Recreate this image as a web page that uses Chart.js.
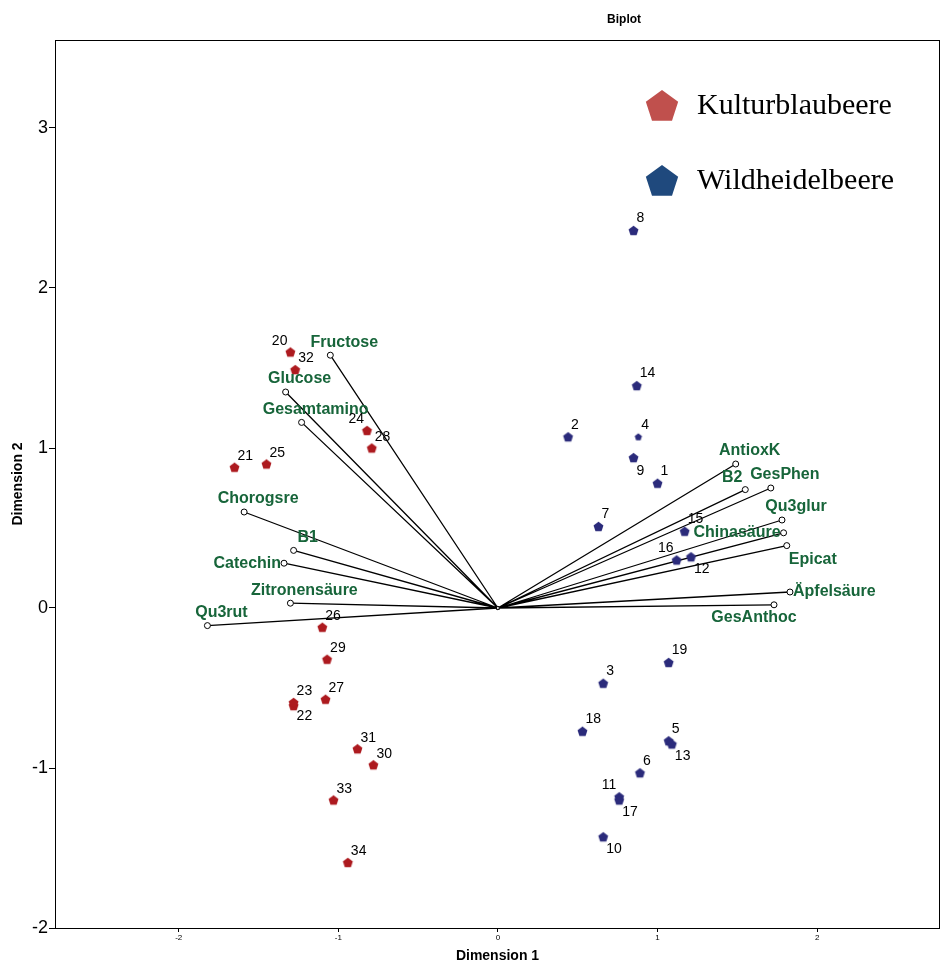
<!DOCTYPE html>
<html>
<head>
<meta charset="utf-8">
<title>Biplot</title>
<script src="https://cdn.jsdelivr.net/npm/chart.js@4.4.1/dist/chart.umd.min.js"></script>
<style>
  html, body { margin: 0; padding: 0; background: #fff; }
</style>
</head>
<body>
<canvas id="biplot" width="946" height="965"></canvas>
<script>
// Kulturblaubeere (Proben 20-34)
var kulturIds = ['20', '21', '22', '23', '24', '25', '26', '27', '28', '29', '30', '31', '32', '33', '34'];
var kulturX = [-1.30, -1.65, -1.28, -1.28, -0.82, -1.45, -1.10, -1.08, -0.79, -1.07, -0.78, -0.88, -1.27, -1.03, -0.94];
var kulturY = [1.60, 0.88, -0.61, -0.59, 1.11, 0.90, -0.12, -0.57, 1.00, -0.32, -0.98, -0.88, 1.49, -1.20, -1.59];

// Wildheidelbeere (Proben 1-19)
var wildIds = ['1', '2', '3', '4', '5', '6', '7', '8', '9', '10', '11', '12', '13', '14', '15', '16', '17', '18', '19'];
var wildX = [1.00, 0.44, 0.66, 0.88, 1.07, 0.89, 0.63, 0.85, 0.85, 0.66, 0.76, 1.21, 1.09, 0.87, 1.17, 1.12, 0.76, 0.53, 1.07];
var wildY = [0.78, 1.07, -0.47, 1.07, -0.83, -1.03, 0.51, 2.36, 0.94, -1.43, -1.18, 0.32, -0.85, 1.39, 0.48, 0.30, -1.20, -0.77, -0.34];

// Variablen (Pfeile)
var varNames = ['Fructose', 'Glucose', 'Gesamtamino', 'Chorogsre', 'B1', 'Catechin', 'Zitronensäure', 'Qu3rut',
                'AntioxK', 'B2', 'GesPhen', 'Qu3glur', 'Chinasäure', 'Epicat', 'Äpfelsäure', 'GesAnthoc'];
var varX = [-1.05, -1.33, -1.23, -1.59, -1.28, -1.34, -1.30, -1.82, 1.49, 1.55, 1.71, 1.78, 1.79, 1.81, 1.83, 1.73];
var varY = [1.58, 1.35, 1.16, 0.60, 0.36, 0.28, 0.03, -0.11, 0.90, 0.74, 0.75, 0.55, 0.47, 0.39, 0.10, 0.02];

var xTicks = [-2, -1, 0, 1, 2];
var yTicks = [-2, -1, 0, 1, 2, 3];
var groupNames = ['Kulturblaubeere', 'Wildheidelbeere'];

// wo die Beschriftungen sitzen (ur = oben rechts, ul = oben links, lr = unten rechts ...)
var kulturLabelPos = ['ul', 'ur', 'lr', 'ur', 'ul', 'ur', 'ur', 'ur', 'ur', 'ur', 'ur', 'ur', 'ur', 'ur', 'ur'];
var wildLabelPos = ['ur', 'ur', 'ur', 'ur', 'ur', 'ur', 'ur', 'ur', 'b', 'lr', 'ul', 'lr', 'lr', 'ur', 'ur', 'ul', 'lr', 'ur', 'ur'];
var varLabelPos = ['ur', 'ur', 'ur', 'ur', 'ur', 'l', 'ur', 'ur', 'ur', 'ul', 'ur', 'ur', 'l', 'br', 'r', 'b'];

var RED = '#ad1a1f';
var BLUE = '#2b2b7b';
var GREEN = '#17653a';
var SANS = "'Liberation Sans', Arial, Helvetica, sans-serif";
var SERIF = "'Liberation Serif', 'Times New Roman', serif";

Chart.defaults.font.family = SANS;

// Fuenfeck mit Spitze nach oben
function pentagonPath(ctx, cx, cy, r) {
    ctx.beginPath();
    for (var k = 0; k < 5; k++) {
        var a = (-90 + k * 72) * Math.PI / 180;
        var px = cx + r * Math.cos(a);
        var py = cy + r * Math.sin(a);
        if (k === 0) ctx.moveTo(px, py); else ctx.lineTo(px, py);
    }
    ctx.closePath();
}

function makePentagon(color, r) {
    var c = document.createElement('canvas');
    var s = Math.ceil(2 * r + 2);
    c.width = s;
    c.height = s;
    var g = c.getContext('2d');
    g.fillStyle = color;
    pentagonPath(g, s / 2, s / 2 + r * 0.095, r);
    g.fill();
    return c;
}

var pentaRed = makePentagon(RED, 5.2);
var pentaBlue = makePentagon(BLUE, 5.2);
var pentaBlueSmall = makePentagon(BLUE, 3.8);

function toPoints(xs, ys) {
    return xs.map(function (x, i) { return { x: x, y: ys[i] }; });
}

// Pfeile: Ursprung -> Endpunkt, dann Luecke
var arrowData = [];
varNames.forEach(function (name, i) {
    arrowData.push({ x: 0, y: 0 });
    arrowData.push({ x: varX[i], y: varY[i] });
    arrowData.push({ x: 0, y: null });
});

function drawLabels(ctx, chart, ids, xs, ys, where, dx, dy) {
    var sx = chart.scales.x, sy = chart.scales.y;
    ids.forEach(function (txt, i) {
        var px = sx.getPixelForValue(xs[i]);
        var py = sy.getPixelForValue(ys[i]);
        var pos = where[i];
        ctx.textBaseline = 'middle';
        if (pos === 'ur') { ctx.textAlign = 'left'; ctx.fillText(txt, px + dx, py - dy); }
        else if (pos === 'ul') { ctx.textAlign = 'right'; ctx.fillText(txt, px - dx, py - dy); }
        else if (pos === 'lr') { ctx.textAlign = 'left'; ctx.fillText(txt, px + dx, py + dy); }
        else if (pos === 'b') { ctx.textAlign = 'left'; ctx.fillText(txt, px + dx, py + dy + 2); }
    });
}

function drawVarLabels(ctx, chart) {
    var sx = chart.scales.x, sy = chart.scales.y;
    ctx.font = 'bold 16px ' + SANS;
    ctx.fillStyle = GREEN;
    ctx.textBaseline = 'middle';
    varNames.forEach(function (name, i) {
        var px = sx.getPixelForValue(varX[i]);
        var py = sy.getPixelForValue(varY[i]);
        switch (varLabelPos[i]) {
            case 'ur': ctx.textAlign = 'center'; ctx.fillText(name, px + 14, py - 13); break;
            case 'ul': ctx.textAlign = 'center'; ctx.fillText(name, px - 13, py - 12); break;
            case 'l': ctx.textAlign = 'right'; ctx.fillText(name, px - 3, py); break;
            case 'r': ctx.textAlign = 'left'; ctx.fillText(name, px + 3, py); break;
            case 'br': ctx.textAlign = 'left'; ctx.fillText(name, px + 2, py + 14); break;
            case 'b': ctx.textAlign = 'center'; ctx.fillText(name, px - 20, py + 13); break;
        }
    });
}

var biplotDeko = {
    id: 'biplotDeko',
    afterDatasetsDraw: function (chart) {
        var ctx = chart.ctx;
        var a = chart.chartArea;
        ctx.save();
        // Rahmen
        ctx.strokeStyle = '#000';
        ctx.lineWidth = 1;
        ctx.strokeRect(a.left + 0.5, a.top + 0.5, a.right - a.left - 1, a.bottom - a.top);

        drawVarLabels(ctx, chart);

        ctx.font = '14px ' + SANS;
        ctx.fillStyle = '#000';
        drawLabels(ctx, chart, kulturIds, kulturX, kulturY, kulturLabelPos, 3, 11);
        drawLabels(ctx, chart, wildIds, wildX, wildY, wildLabelPos, 3, 12);
        ctx.restore();
    },
    afterDraw: function (chart) {
        var ctx = chart.ctx;
        var a = chart.chartArea;
        ctx.save();
        // Titel
        ctx.font = 'bold 12px ' + SANS;
        ctx.fillStyle = '#000';
        ctx.textAlign = 'center';
        ctx.textBaseline = 'middle';
        ctx.fillText('Biplot', a.left + 0.643 * (a.right - a.left), 20);

        // Legende
        var colors = ['#c0504d', '#1f497d'];
        var lx = a.right - 278;
        var ly = [a.top + 66, a.top + 141];
        groupNames.forEach(function (name, i) {
            ctx.fillStyle = colors[i];
            pentagonPath(ctx, lx, ly[i] + 1, 17);
            ctx.fill();
            ctx.fillStyle = '#000';
            ctx.font = '30px ' + SERIF;
            ctx.textAlign = 'left';
            ctx.textBaseline = 'alphabetic';
            ctx.fillText(name, lx + 35, ly[i] + 8);
        });
        ctx.restore();
    }
};

var ctx = document.getElementById('biplot').getContext('2d');
var biplotChart = new Chart(ctx, {
    type: 'scatter',
    data: {
        datasets: [
            {
                label: groupNames[0],
                data: toPoints(kulturX, kulturY),
                pointStyle: pentaRed,
                pointRadius: 5
            },
            {
                label: groupNames[1],
                data: toPoints(wildX, wildY),
                pointStyle: function (c) {
                    return wildIds[c.dataIndex] === '4' ? pentaBlueSmall : pentaBlue;
                },
                pointRadius: 5
            },
            {
                label: 'Variablen',
                data: arrowData,
                showLine: true,
                spanGaps: false,
                borderColor: '#000',
                borderWidth: 1.3,
                pointRadius: function (c) { return c.dataIndex % 3 === 1 ? 3 : 1.5; },
                pointBackgroundColor: '#fff',
                pointBorderColor: '#000',
                pointBorderWidth: 1
            }
        ]
    },
    options: {
        responsive: false,
        animation: false,
        events: [],
        devicePixelRatio: 1,
        layout: { padding: { top: 40, right: 4, left: 0, bottom: 0 } },
        plugins: {
            legend: { display: false },
            tooltip: { enabled: false },
            title: { display: false }
        },
        scales: {
            x: {
                type: 'linear',
                min: -2.775,
                max: 2.77,
                afterFit: function (s) { s.height = 37; },
                afterBuildTicks: function (s) {
                    s.ticks = xTicks.map(function (v) { return { value: v }; });
                },
                ticks: { font: { size: 8 }, color: '#000', padding: 1 },
                grid: { drawOnChartArea: false, tickLength: 4, color: '#000' },
                border: { display: false },
                title: {
                    display: true,
                    text: 'Dimension 1',
                    color: '#000',
                    font: { size: 14, weight: 'bold' },
                    padding: { top: 0, bottom: 0 }
                }
            },
            y: {
                type: 'linear',
                min: -2.0,
                max: 3.55,
                afterFit: function (s) { s.width = 55; },
                afterBuildTicks: function (s) {
                    s.ticks = yTicks.map(function (v) { return { value: v }; });
                },
                ticks: { font: { size: 18 }, color: '#000', padding: 1 },
                grid: { drawOnChartArea: false, tickLength: 6, color: '#000' },
                border: { display: false },
                title: {
                    display: true,
                    text: 'Dimension 2',
                    color: '#000',
                    font: { size: 14, weight: 'bold' },
                    padding: { top: 10, bottom: 0 }
                }
            }
        }
    },
    plugins: [biplotDeko]
});
</script>
</body>
</html>
